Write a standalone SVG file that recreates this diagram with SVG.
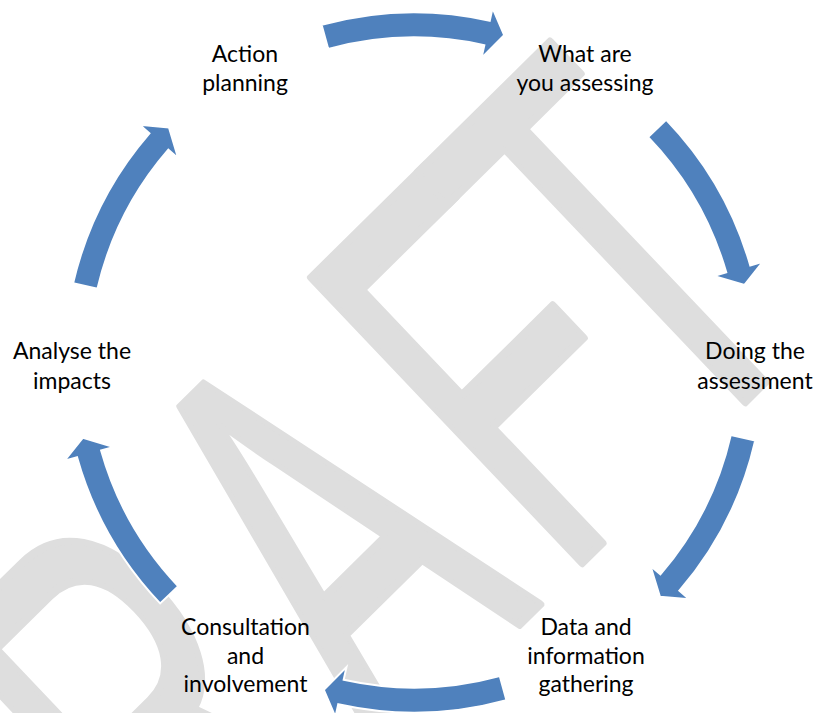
<svg xmlns="http://www.w3.org/2000/svg" xmlns:xlink="http://www.w3.org/1999/xlink" width="819" height="713" viewBox="0 0 819 713">
  <style>
    .lbl { font-family: Lato, "Liberation Sans", sans-serif; font-size: 23px; fill: #000000; text-anchor: middle; }
    .wm { font-family: "Liberation Sans", Arial, sans-serif; font-size: 100px; fill: #dedede; stroke: #dedede; stroke-width: 1.5; stroke-linejoin: round; font-kerning: none; }
    .arw { fill: #4f81bd; stroke: #ffffff; stroke-width: 2; stroke-linejoin: miter; }
  </style>
  <defs>
    <path id="arrow" d="M337.60,-92.36 A350,350 0 0 1 341.71,75.75 L354.40,78.57 L327.31,90.16 L304.61,67.53 L317.30,70.34 A325,325 0 0 0 313.48,-85.76 Z"/>
  </defs>
  <rect width="819" height="713" fill="#ffffff"/>
  <g id="watermark">
    <text class="wm" transform="matrix(2.370,-2.339,3.934,4.140,-28.3,1165)" x="15 95 173.7 248.9 300" y="0">DRAFT</text>
  </g>
  <g id="connectors">
    <use class="arw" xlink:href="#arrow" href="#arrow" transform="translate(414,362.5) rotate(-90)"/>
    <use class="arw" xlink:href="#arrow" href="#arrow" transform="translate(414,362.5) rotate(-28.6)"/>
    <use class="arw" xlink:href="#arrow" href="#arrow" transform="translate(414,362.5) rotate(28.2)"/>
    <use class="arw" xlink:href="#arrow" href="#arrow" transform="translate(414,362.5) rotate(90)"/>
    <use class="arw" xlink:href="#arrow" href="#arrow" transform="translate(414,362.5) rotate(151.8)"/>
    <use class="arw" xlink:href="#arrow" href="#arrow" transform="translate(414,362.5) rotate(208.4)"/>
  </g>
  <g id="node-action-planning">
    <text class="lbl" x="245" y="61.5">Action</text>
    <text class="lbl" x="245" y="91">planning</text>
  </g>
  <g id="node-what-are-you-assessing">
    <text class="lbl" x="585" y="61.5">What are</text>
    <text class="lbl" x="585" y="91">you assessing</text>
  </g>
  <g id="node-doing-the-assessment">
    <text class="lbl" x="755" y="359">Doing the</text>
    <text class="lbl" x="755" y="389">assessment</text>
  </g>
  <g id="node-data-and-information-gathering">
    <text class="lbl" x="586" y="635">Data and</text>
    <text class="lbl" x="586" y="663.5">information</text>
    <text class="lbl" x="586" y="692">gathering</text>
  </g>
  <g id="node-consultation-and-involvement">
    <text class="lbl" x="245.5" y="635">Consultation</text>
    <text class="lbl" x="245.5" y="663.5">and</text>
    <text class="lbl" x="245.5" y="692">involvement</text>
  </g>
  <g id="node-analyse-the-impacts">
    <text class="lbl" x="72" y="359">Analyse the</text>
    <text class="lbl" x="72" y="389">impacts</text>
  </g>
</svg>
